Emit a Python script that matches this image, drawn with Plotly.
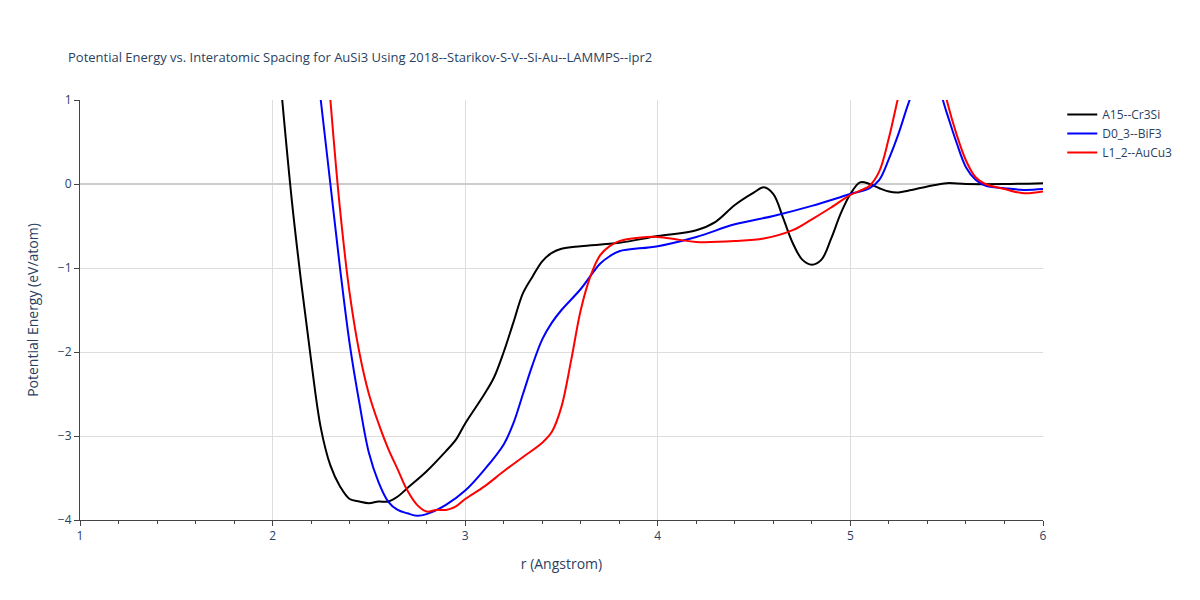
import plotly.graph_objects as go

a15_r = [2.05,2.1,2.15,2.2,2.25,2.3,2.35,2.4,2.45,2.5,2.55,2.6,2.65,2.7,2.8,2.9,2.95,3.0,3.1,3.15,3.2,3.25,3.3,3.35,3.4,3.45,3.5,3.6,3.8,4.0,4.2,4.3,4.4,4.5,4.55,4.6,4.65,4.7,4.75,4.8,4.85,4.9,4.95,5.0,5.05,5.1,5.15,5.2,5.25,5.3,5.4,5.5,5.6,5.8,6.0]
a15_e = [1.0,-0.2,-1.2,-2.1,-2.9,-3.35,-3.6,-3.75,-3.78,-3.8,-3.78,-3.78,-3.72,-3.62,-3.42,-3.18,-3.05,-2.85,-2.5,-2.3,-2.0,-1.65,-1.3,-1.1,-0.92,-0.82,-0.77,-0.74,-0.7,-0.62,-0.55,-0.45,-0.25,-0.1,-0.04,-0.12,-0.4,-0.7,-0.9,-0.96,-0.9,-0.65,-0.35,-0.12,0.02,0.0,-0.05,-0.09,-0.1,-0.08,-0.03,0.01,0.0,0.0,0.01]

d03_r = [2.25,2.3,2.35,2.4,2.45,2.5,2.55,2.6,2.65,2.7,2.75,2.8,2.9,3.0,3.1,3.2,3.25,3.3,3.35,3.4,3.45,3.5,3.6,3.7,3.75,3.8,4.0,4.2,4.4,4.6,4.8,5.0,5.1,5.15,5.2,5.25,5.3,5.35,5.4,5.45,5.5,5.55,5.6,5.65,5.7,5.8,5.9,6.0]
d03_e = [1.0,0.0,-1.0,-1.9,-2.6,-3.2,-3.55,-3.78,-3.88,-3.92,-3.95,-3.93,-3.82,-3.65,-3.4,-3.1,-2.85,-2.5,-2.15,-1.85,-1.65,-1.5,-1.25,-0.95,-0.86,-0.8,-0.74,-0.63,-0.48,-0.38,-0.26,-0.12,-0.05,0.05,0.3,0.6,0.95,1.25,1.4,1.2,0.85,0.5,0.2,0.05,-0.02,-0.05,-0.07,-0.06]

l12_r = [2.3,2.35,2.4,2.45,2.5,2.55,2.6,2.65,2.7,2.75,2.8,2.85,2.9,2.95,3.0,3.1,3.2,3.3,3.4,3.45,3.5,3.55,3.6,3.65,3.7,3.75,3.8,3.9,4.0,4.1,4.2,4.4,4.55,4.7,4.8,4.9,5.0,5.05,5.1,5.15,5.2,5.25,5.3,5.45,5.5,5.55,5.6,5.65,5.7,5.8,5.9,6.0]
l12_e = [1.0,-0.3,-1.3,-2.0,-2.5,-2.85,-3.15,-3.4,-3.65,-3.82,-3.9,-3.88,-3.88,-3.84,-3.75,-3.6,-3.42,-3.25,-3.08,-2.95,-2.65,-2.1,-1.5,-1.1,-0.85,-0.74,-0.68,-0.64,-0.63,-0.66,-0.69,-0.68,-0.65,-0.55,-0.42,-0.28,-0.13,-0.08,-0.02,0.15,0.55,1.05,1.5,1.5,1.0,0.6,0.28,0.08,0.0,-0.06,-0.11,-0.09]

fig = go.Figure()
fig.add_trace(go.Scatter(x=a15_r, y=a15_e, mode="lines", name="A15--Cr3Si", line=dict(color="black", width=2, shape="spline")))
fig.add_trace(go.Scatter(x=d03_r, y=d03_e, mode="lines", name="D0_3--BiF3", line=dict(color="blue", width=2, shape="spline")))
fig.add_trace(go.Scatter(x=l12_r, y=l12_e, mode="lines", name="L1_2--AuCu3", line=dict(color="red", width=2, shape="spline")))

fig.update_layout(
    template="plotly_white",
    width=1200, height=600,
    margin=dict(l=72, r=165, t=92, b=88),
    title=dict(text="Potential Energy vs. Interatomic Spacing for AuSi3 Using 2018--Starikov-S-V--Si-Au--LAMMPS--ipr2",
               x=0.05, y=0.925, font=dict(size=13)),
    xaxis=dict(title="r (Angstrom)", range=[1, 6], showline=True, linecolor="#444", ticks="outside",
               dtick=1, gridcolor="#ddd", minor=dict(ticks="outside", dtick=0.2, ticklen=3), zeroline=False),
    yaxis=dict(title="Potential Energy (eV/atom)", range=[-4, 1], showline=True, linecolor="#444",
               ticks="outside", dtick=1, gridcolor="#ddd", zeroline=True, zerolinecolor="#ccc", zerolinewidth=2),
    legend=dict(x=1.02, y=1.0),
)
fig.write_html("out.html")
